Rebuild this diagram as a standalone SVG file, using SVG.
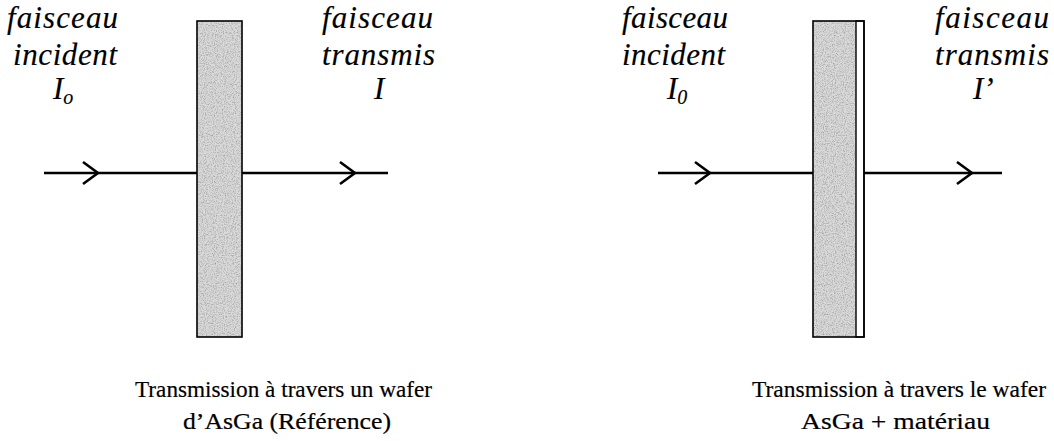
<svg xmlns="http://www.w3.org/2000/svg" width="1054" height="441" viewBox="0 0 1054 441">
  <style>
    .lbl { font-family: "Liberation Serif", "Times New Roman", serif; font-style: italic; font-size: 31px; fill: #000; stroke: #000; stroke-width: 0.15; }
    .cap { font-family: "Liberation Serif", "Times New Roman", serif; font-size: 24px; fill: #000; stroke: #000; stroke-width: 0.2; }
    .beam { fill: none; stroke: #000; stroke-width: 2.6; }
    .wafer { stroke: #000; stroke-width: 1.6; }
    .layer { fill: #fff; stroke: #000; stroke-width: 1.4; }
  </style>
  <defs>
    <!-- open chevron placed on the beam to show direction -->
    <marker id="chev" markerUnits="userSpaceOnUse" markerWidth="20" markerHeight="26" refX="16" refY="12" orient="auto" overflow="visible">
      <path d="M1,1 L16,12 L1,23" fill="none" stroke="#000" stroke-width="2.6" stroke-linejoin="miter"/>
    </marker>
    <!-- grainy grey fill for the GaAs substrate -->
    <filter id="grain" x="0" y="0" width="100%" height="100%">
      <feTurbulence type="fractalNoise" baseFrequency="0.9" numOctaves="2" seed="4" result="n"/>
      <feColorMatrix in="n" type="matrix" values="0 0 0 0 0  0 0 0 0 0  0 0 0 0 0  0 0 0 -1.2 0.7" result="dots"/>
      <feComposite in="dots" in2="SourceGraphic" operator="in" result="d2"/>
      <feMerge><feMergeNode in="SourceGraphic"/><feMergeNode in="d2"/></feMerge>
    </filter>
  </defs>

  <g id="connectors">
    <path class="beam" d="M44,173 L98,173 L197,173" marker-mid="url(#chev)"/>
    <path class="beam" d="M242,173 L355,173 L388,173" marker-mid="url(#chev)"/>
    <path class="beam" d="M658,173 L710,173 L813,173" marker-mid="url(#chev)"/>
    <path class="beam" d="M864,173 L972,173 L1002,173" marker-mid="url(#chev)"/>
  </g>

  <!-- reference wafer -->
  <g id="wafer-ref">
    <rect x="197" y="21" width="45" height="316" fill="#dadada" filter="url(#grain)"/>
    <rect class="wafer" x="197" y="21" width="45" height="316" fill="none"/>
  </g>

  <!-- wafer with deposited material -->
  <g id="wafer-material">
    <rect x="813" y="21" width="43" height="316" fill="#dadada" filter="url(#grain)"/>
    <rect class="layer" x="856" y="21" width="8" height="316"/>
    <rect class="wafer" x="813" y="21" width="51" height="316" fill="none"/>
  </g>

  <g id="label-incident-ref">
    <text class="lbl" x="7" y="28" textLength="111" lengthAdjust="spacing">faisceau</text>
    <text class="lbl" x="13" y="65" textLength="104" lengthAdjust="spacing">incident</text>
    <text class="lbl" x="53" y="99">I<tspan font-size="20" dy="5">o</tspan></text>
  </g>
  <g id="label-transmis-ref">
    <text class="lbl" x="322" y="28" textLength="111" lengthAdjust="spacing">faisceau</text>
    <text class="lbl" x="322" y="65" textLength="113" lengthAdjust="spacing">transmis</text>
    <text class="lbl" x="374" y="99">I</text>
  </g>
  <g id="label-incident-mat">
    <text class="lbl" x="622" y="28" textLength="106" lengthAdjust="spacing">faisceau</text>
    <text class="lbl" x="622" y="65" textLength="103" lengthAdjust="spacing">incident</text>
    <text class="lbl" x="667" y="99">I<tspan font-size="20" dy="5">0</tspan></text>
  </g>
  <g id="label-transmis-mat">
    <text class="lbl" x="935" y="28" textLength="114" lengthAdjust="spacing">faisceau</text>
    <text class="lbl" x="935" y="65" textLength="114" lengthAdjust="spacing">transmis</text>
    <text class="lbl" x="973" y="99">I’</text>
  </g>

  <g id="caption-ref">
    <text class="cap" x="135" y="397" textLength="297" lengthAdjust="spacingAndGlyphs">Transmission à travers un wafer</text>
    <text class="cap" x="183" y="429" textLength="208" lengthAdjust="spacingAndGlyphs">d’AsGa (Référence)</text>
  </g>
  <g id="caption-mat">
    <text class="cap" x="752" y="397" textLength="294" lengthAdjust="spacingAndGlyphs">Transmission à travers le wafer</text>
    <text class="cap" x="801" y="429" textLength="189" lengthAdjust="spacingAndGlyphs">AsGa + matériau</text>
  </g>
</svg>
